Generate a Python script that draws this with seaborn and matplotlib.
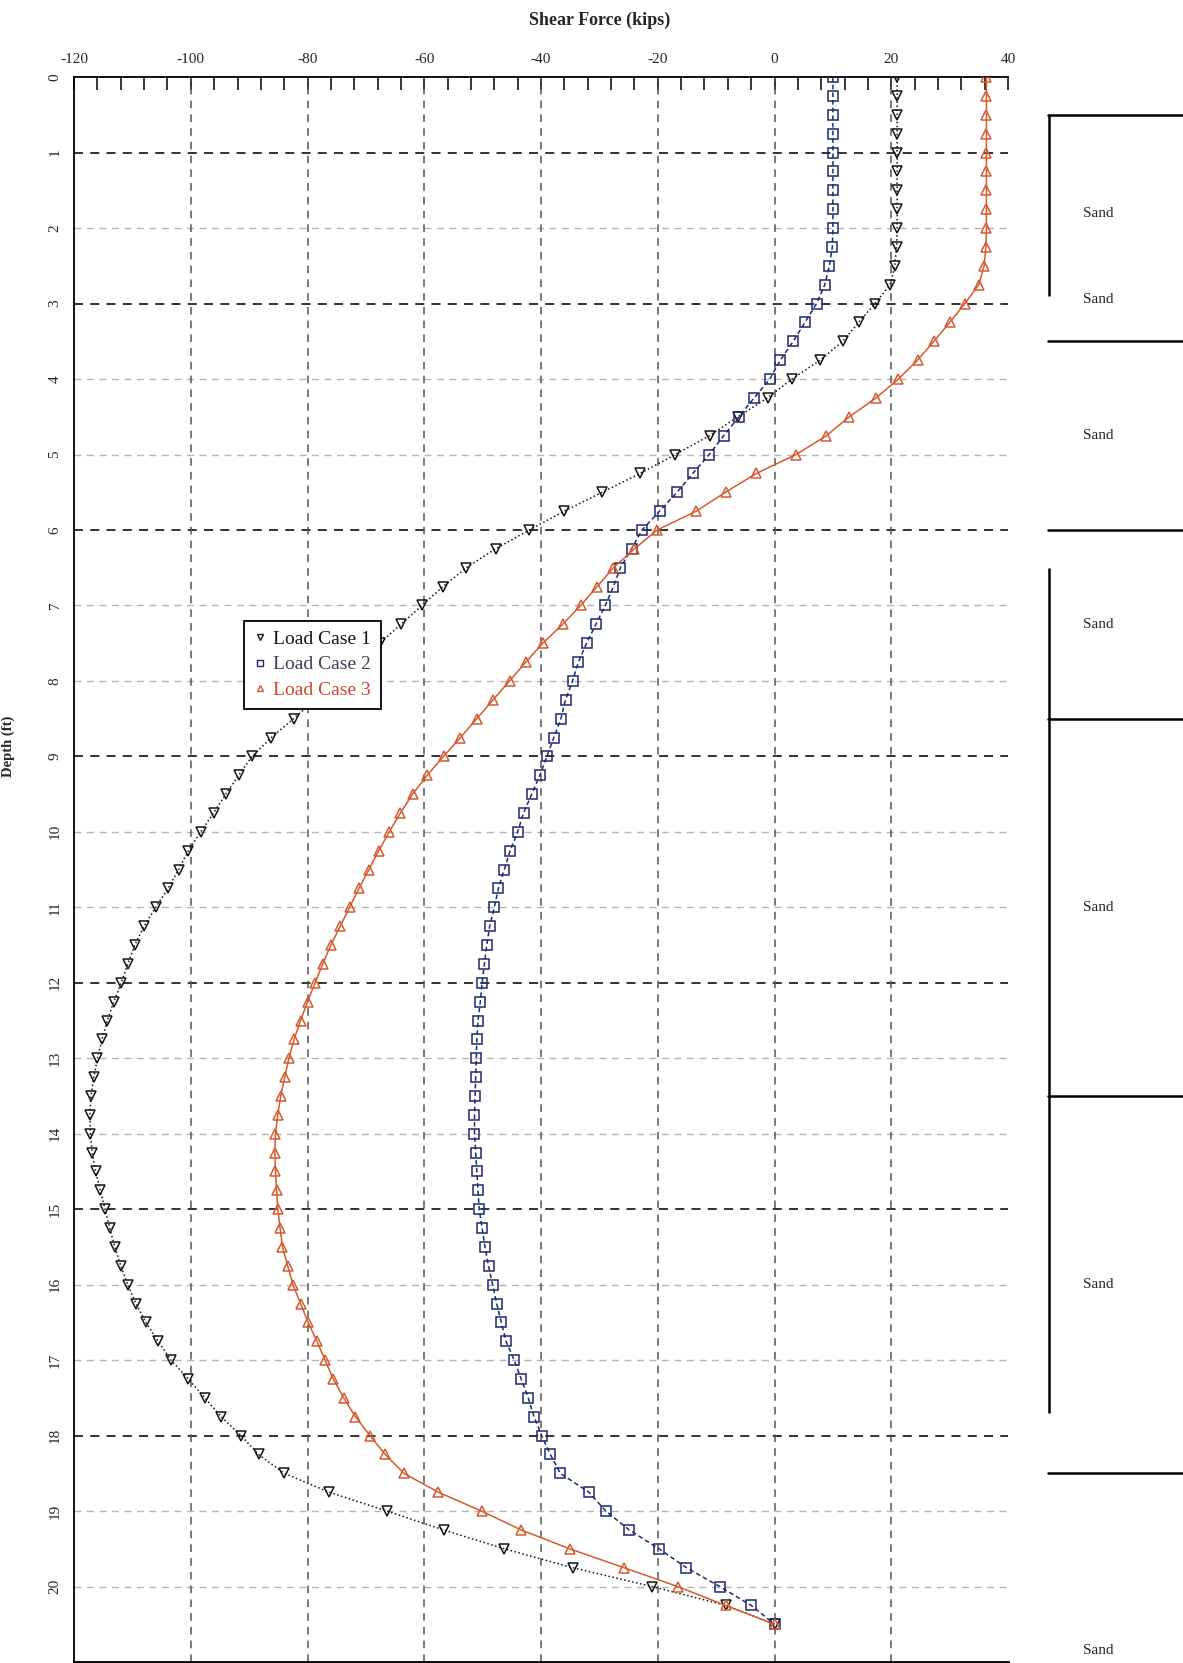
import matplotlib
matplotlib.use("Agg")
import matplotlib.pyplot as plt
from matplotlib.lines import Line2D
from matplotlib.ticker import MultipleLocator
import seaborn as sns

# depth below pile head (ft), one row per foot
depth = [
    0.0, 0.25, 0.5, 0.75,
    1.0, 1.25, 1.5, 1.75,
    2.0, 2.25, 2.5, 2.75,
    3.0, 3.25, 3.5, 3.75,
    4.0, 4.25, 4.5, 4.75,
    5.0, 5.25, 5.5, 5.75,
    6.0, 6.25, 6.5, 6.75,
    7.0, 7.25, 7.5, 7.75,
    8.0, 8.25, 8.5, 8.75,
    9.0, 9.25, 9.5, 9.75,
    10.0, 10.25, 10.5, 10.75,
    11.0, 11.25, 11.5, 11.75,
    12.0, 12.25, 12.5, 12.75,
    13.0, 13.25, 13.5, 13.75,
    14.0, 14.25, 14.5, 14.75,
    15.0, 15.25, 15.5, 15.75,
    16.0, 16.25, 16.5, 16.75,
    17.0, 17.25, 17.5, 17.75,
    18.0, 18.25, 18.5, 18.75,
    19.0, 19.25, 19.5, 19.75,
    20.0, 20.25, 20.5,
]

# shear force (kips)
load_case_1 = [
    21.0, 21.0, 21.0, 21.0,
    21.0, 21.0, 21.0, 21.0,
    21.0, 20.9, 20.6, 19.8,
    17.2, 14.4, 11.7, 7.8,
    3.0, -1.2, -6.3, -11.1,
    -17.0, -23.0, -29.5, -36.0,
    -42.0, -47.8, -52.8, -56.8,
    -60.4, -64.0, -67.6, -71.3,
    -75.0, -78.7, -82.4, -86.2,
    -89.5, -91.8, -94.0, -96.1,
    -98.3, -100.4, -102.1, -103.9,
    -106.0, -108.0, -109.6, -110.8,
    -111.9, -113.2, -114.3, -115.2,
    -116.0, -116.6, -117.1, -117.3,
    -117.2, -116.9, -116.3, -115.5,
    -114.7, -113.9, -113.0, -112.0,
    -110.8, -109.4, -107.7, -105.6,
    -103.4, -100.4, -97.6, -94.8,
    -91.4, -88.4, -84.0, -76.3,
    -66.4, -56.7, -46.3, -34.6,
    -21.0, -8.3, 0.0,
]

load_case_2 = [
    10.0, 10.0, 10.0, 10.0,
    10.0, 10.0, 10.0, 10.0,
    10.0, 9.9, 9.4, 8.6,
    7.2, 5.2, 3.2, 1.0,
    -0.8, -3.5, -6.1, -8.7,
    -11.2, -14.0, -16.7, -19.7,
    -22.7, -24.5, -26.4, -27.6,
    -29.0, -30.6, -32.2, -33.6,
    -34.6, -35.8, -36.6, -37.8,
    -39.0, -40.2, -41.6, -43.0,
    -44.0, -45.3, -46.3, -47.3,
    -48.0, -48.8, -49.3, -49.7,
    -50.1, -50.4, -50.8, -51.0,
    -51.1, -51.2, -51.3, -51.4,
    -51.4, -51.2, -51.0, -50.8,
    -50.6, -50.1, -49.6, -49.0,
    -48.3, -47.6, -46.8, -46.0,
    -44.6, -43.4, -42.2, -41.2,
    -39.9, -38.4, -36.7, -31.8,
    -28.9, -24.9, -19.8, -15.1,
    -9.4, -4.0, 0.0,
]

load_case_3 = [
    36.3, 36.3, 36.3, 36.3,
    36.3, 36.3, 36.3, 36.3,
    36.3, 36.2, 35.9, 35.0,
    32.6, 30.0, 27.3, 24.5,
    21.2, 17.4, 12.8, 8.9,
    3.7, -3.1, -8.4, -13.4,
    -20.1, -24.0, -27.6, -30.4,
    -33.2, -36.3, -39.7, -42.6,
    -45.4, -48.2, -51.0, -53.8,
    -56.7, -59.5, -62.0, -64.1,
    -66.0, -67.8, -69.5, -71.2,
    -72.8, -74.4, -76.0, -77.4,
    -78.7, -80.0, -81.2, -82.3,
    -83.2, -83.9, -84.6, -85.1,
    -85.5, -85.6, -85.5, -85.3,
    -85.1, -84.7, -84.3, -83.4,
    -82.5, -81.2, -79.9, -78.4,
    -77.0, -75.6, -73.8, -71.8,
    -69.3, -66.7, -63.5, -57.6,
    -50.2, -43.4, -35.1, -25.8,
    -16.6, -8.4, 0.0,
]

series_names = ["Load Case 1", "Load Case 2", "Load Case 3"]
series_colors = ["#141414", "#1e2a6c", "#d65a2e"]
series_markers = ["v", "s", "^"]
series_lines = [":", (0, (3, 2)), "-"]

# soil profile
layer_tops = [0.5, 3.5, 6.0, 8.5, 13.5, 18.5]
soil_names = ["Sand", "Sand", "Sand", "Sand", "Sand", "Sand", "Sand"]
soil_label_depth = [1.8, 2.95, 4.75, 7.25, 11.0, 16.0, 20.85]

sns.set_style("white")
plt.rcParams["font.family"] = ["Liberation Serif", "DejaVu Serif"]
plt.rcParams["axes.unicode_minus"] = False

fig = plt.figure(figsize=(11.83, 16.63), dpi=100)
ax = fig.add_axes([0.0626, 0.0006, 0.7895, 0.953])

# grid: light dashed everywhere, darker at some depths
dark_rows = [1, 3, 6, 9, 12, 15, 18]
for d in range(1, 21):
    if d in dark_rows:
        ax.axhline(d, color="#222222", lw=1.3, ls=(0, (5, 4)), zorder=1)
    else:
        ax.axhline(d, color="#b5b5b5", lw=1.0, ls=(0, (5, 4)), zorder=1)
for x in range(-100, 40, 20):
    ax.axvline(x, color="#555555", lw=1.1, ls=(0, (5, 4)), zorder=1)

for vals, c, m, ls in zip([load_case_1, load_case_2, load_case_3],
                          series_colors, series_markers, series_lines):
    sns.lineplot(x=vals, y=depth, sort=False, estimator=None, ax=ax,
                 color=c, marker=m, markersize=7, mfc="none", mec=c,
                 mew=1.1, linestyle=ls, lw=1.1, zorder=3)

ax.set_xlim(-120, 40)
ax.set_ylim(21, 0)
ax.xaxis.tick_top()
ax.set_xticks(range(-120, 41, 20))
ax.xaxis.set_minor_locator(MultipleLocator(4))
ax.set_yticks(range(0, 21))
ax.yaxis.set_minor_locator(MultipleLocator(0.2))
ax.tick_params(axis="x", which="both", direction="in", length=9, width=1.3,
               top=True, bottom=False, labelsize=11, pad=8)
ax.tick_params(axis="y", which="major", direction="in", length=0,
               labelsize=11, pad=9, labelrotation=90)
ax.tick_params(axis="y", which="minor", direction="in", length=9, width=1.3)
for lbl in ax.get_yticklabels():
    lbl.set_va("center")

for side in ["left", "top"]:
    ax.spines[side].set_linewidth(1.3)
    ax.spines[side].set_color("black")
ax.spines["bottom"].set_linewidth(2.0)
ax.spines["bottom"].set_color("black")
ax.spines["right"].set_visible(False)

ax.set_xlabel("")
ax.set_ylabel("Depth (ft)", fontsize=10.5, fontweight="bold")
ax.yaxis.set_label_coords(-0.063, 0.578)
fig.text(0.507, 1 - 20 / 1663, "Shear Force (kips)", ha="center", va="center",
         fontsize=13, fontweight="bold")

handles = [Line2D([], [], ls="none", marker=m, color=c, mfc="none", mec=c,
                  mew=1.0, ms=5)
           for m, c in zip(series_markers, series_colors)]
leg = ax.legend(handles, series_names, loc="upper left",
                bbox_to_anchor=(0.182, 0.657), borderaxespad=0, fontsize=14,
                frameon=True, fancybox=False, framealpha=1, edgecolor="black",
                handlelength=0.6, handletextpad=0.4, labelspacing=0.4,
                borderpad=0.5)
leg.get_frame().set_linewidth(1.3)
leg.set_zorder(5)
for t, c in zip(leg.get_texts(), ["#141414", "#3a3f5c", "#d0452c"]):
    t.set_color(c)

# soil column on the right
ax2 = fig.add_axes([1048 / 1183, 0.0006, (1183 - 1048) / 1183, 0.953])
ax2.set_xlim(0, 1)
ax2.set_ylim(21, 0)
ax2.axis("off")
for top in layer_tops:
    ax2.axhline(top, color="black", lw=1.8, clip_on=False)
ax2.vlines(0.005, layer_tops[0], 2.9, color="black", lw=1.8, clip_on=False)
ax2.vlines(0.005, 6.5, 17.7, color="black", lw=1.8, clip_on=False)
for d, name in zip(soil_label_depth, soil_names):
    ax2.text(0.37, d, name, ha="center", va="center", fontsize=11,
             clip_on=False)

fig.savefig("out.png", dpi=100)
